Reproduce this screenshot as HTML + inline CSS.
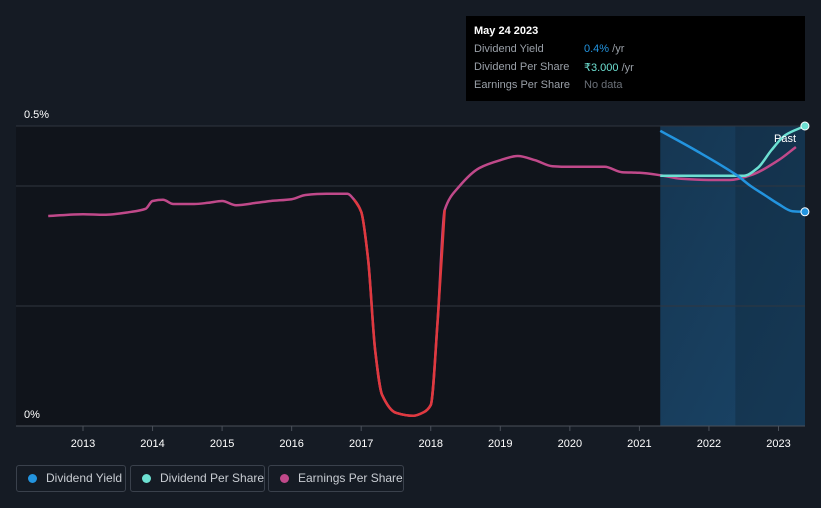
<!DOCTYPE html>
<html><head><meta charset="utf-8"><style>
body{margin:0;background:#151b24;font-family:"Liberation Sans",sans-serif;}
#w{position:relative;width:821px;height:508px;overflow:hidden;background:#151b24}
.tt{position:absolute;left:466px;top:16px;width:339px;height:85px;background:#000;color:#fff;font-size:11px}
.tt div{position:absolute;left:8px;white-space:nowrap}
.lg{position:absolute;top:465px;height:27px;border:1px solid #3a414c;border-radius:3px;color:#c8ccd2;font-size:12px;line-height:25px;box-sizing:border-box;white-space:nowrap;overflow:hidden}
.lg span{display:inline-block;width:9px;height:9px;border-radius:50%;margin:0 9px 0 11px;vertical-align:-1px}
</style></head><body><div id="w">
<svg id="s" width="821" height="508" style="position:absolute;left:0;top:0"></svg>
<div class="tt">
<div style="top:9px;font-weight:bold">May 24 2023</div>
<div style="top:27px;color:#9aa0a8">Dividend Yield</div><div style="top:27px;left:118px;color:#2394df">0.4% <span style="color:#9aa0a8">/yr</span></div>
<div style="top:45px;color:#9aa0a8">Dividend Per Share</div><div style="top:45px;left:118px;color:#6de0d2">₹3.000 <span style="color:#9aa0a8">/yr</span></div>
<div style="top:63px;color:#9aa0a8">Earnings Per Share</div><div style="top:63px;left:118px;color:#6b7078">No data</div>
</div>
<div class="lg" style="left:16px;width:110px"><span style="background:#2394df"></span>Dividend Yield</div>
<div class="lg" style="left:130px;width:135px"><span style="background:#6de0d2"></span>Dividend Per Share</div>
<div class="lg" style="left:268px;width:136px"><span style="background:#c0498a"></span>Earnings Per Share</div>
</div>
<script>
const yearTicks=[2013,2014,2015,2016,2017,2018,2019,2020,2021,2022,2023];
const yTicks=[0,0.2,0.4,0.5];
const epsT=[2012.5,2013,2013.3,2013.7,2013.9,2014,2014.15,2014.3,2014.6,2014.8,2015,2015.2,2015.5,2015.7,2016,2016.2,2016.5,2016.8,2016.9,2017,2017.1,2017.2,2017.3,2017.5,2017.75,2017.9,2018,2018.1,2018.2,2018.4,2018.7,2019,2019.25,2019.5,2019.75,2020,2020.5,2020.75,2021,2021.3,2021.6,2022,2022.3,2022.6,2023,2023.25];
const epsV=[0.35,0.353,0.352,0.357,0.362,0.375,0.377,0.37,0.37,0.372,0.375,0.368,0.372,0.375,0.378,0.385,0.387,0.387,0.377,0.357,0.277,0.127,0.052,0.022,0.017,0.023,0.035,0.177,0.36,0.398,0.43,0.443,0.45,0.443,0.433,0.432,0.432,0.423,0.422,0.418,0.412,0.41,0.41,0.418,0.443,0.465];
const dyT=[2021.3,2021.8,2022.4,2022.6,2022.8,2023,2023.2,2023.38];
const dyV=[0.492,0.46,0.418,0.4,0.385,0.37,0.358,0.357];
const dpsT=[2021.3,2022,2022.5,2022.7,2022.9,2023.1,2023.38];
const dpsV=[0.417,0.417,0.417,0.43,0.46,0.485,0.5];
const X=t=>83+(t-2013)*69.55, Y=v=>426-v*600;
const s=document.getElementById('s'),NS='http://www.w3.org/2000/svg';
function mk(tag,a,name){const e=document.createElementNS(NS,tag);for(const k in a)e.setAttribute(k,a[k]);


s.appendChild(e);return e;}
mk('rect',{x:16,y:126,width:789,height:300,fill:'#10141b'},'plot-bg');
const d=mk('defs',{},'defs');d.innerHTML='<linearGradient id="g" x1="0" y1="0" x2="1" y2="1"><stop offset="0" stop-color="#163a58" stop-opacity=".9"/><stop offset="1" stop-color="#1b4a70" stop-opacity=".9"/></linearGradient>';
mk('rect',{x:X(2021.3),y:126,width:805-X(2021.3),height:300,fill:'url(#g)'},'forecast-shade');
mk('rect',{x:X(2022.38),y:126,width:805-X(2022.38),height:300,fill:'#0f2235',opacity:.35},'past-shade');
yTicks.forEach(v=>{mk('line',{x1:16,x2:805,y1:Y(v),y2:Y(v),stroke:v==0?'#4a505a':'#30363f','stroke-width':1},'gridline');});
const l1=mk('text',{x:24,y:118,fill:'#fff','font-size':11},'y-label-top');l1.textContent='0.5%';
const l0=mk('text',{x:24,y:418,fill:'#fff','font-size':11},'y-label-zero');l0.textContent='0%';
yearTicks.forEach(t=>{mk('line',{x1:X(t),x2:X(t),y1:426,y2:431,stroke:'#4a505a'},'x-tick');
const e=mk('text',{x:X(t),y:447,fill:'#fff','font-size':11,'text-anchor':'middle'},'x-tick-label');e.textContent=t;});
function path(T,V){const xs=T.map(X),ys=V.map(Y),n=xs.length,m=[];
for(let i=0;i<n;i++){if(i==0)m[i]=(ys[1]-ys[0])/(xs[1]-xs[0]);else if(i==n-1)m[i]=(ys[i]-ys[i-1])/(xs[i]-xs[i-1]);else{const a=(ys[i]-ys[i-1])/(xs[i]-xs[i-1]),b=(ys[i+1]-ys[i])/(xs[i+1]-xs[i]);m[i]=a*b<=0?0:2/(1/a+1/b);}}
let p='M'+xs[0]+','+ys[0];for(let i=1;i<n;i++){const h=(xs[i]-xs[i-1])/3;p+=' C'+(xs[i-1]+h)+','+(ys[i-1]+m[i-1]*h)+' '+(xs[i]-h)+','+(ys[i]-m[i]*h)+' '+xs[i]+','+ys[i];}return p;}
mk('path',{d:path(epsT,epsV),fill:'none',stroke:'#c0498a','stroke-width':2.5},'eps-line');
const ri=epsT.map((t,i)=>i).filter(i=>epsT[i]>=2016.9&&epsT[i]<=2018.2);
mk('path',{d:path(ri.map(i=>epsT[i]),ri.map(i=>epsV[i])),fill:'none',stroke:'#e0393e','stroke-width':2.5},'eps-line-negative');
mk('path',{d:path(dpsT,dpsV),fill:'none',stroke:'#6de0d2','stroke-width':2.5},'dps-line');
mk('path',{d:path(dyT,dyV),fill:'none',stroke:'#2394df','stroke-width':2.5},'dividend-yield-line');
mk('circle',{cx:X(dpsT[dpsT.length-1]),cy:Y(dpsV[dpsV.length-1]),r:4,fill:'#6de0d2',stroke:'#fff','stroke-width':1},'dps-end-dot');
mk('circle',{cx:X(dyT[dyT.length-1]),cy:Y(dyV[dyV.length-1]),r:4,fill:'#2394df',stroke:'#fff','stroke-width':1},'yield-end-dot');
const p=mk('text',{x:774,y:142,fill:'#fff','font-size':11},'past-label');p.textContent='Past';
</script></body></html>
